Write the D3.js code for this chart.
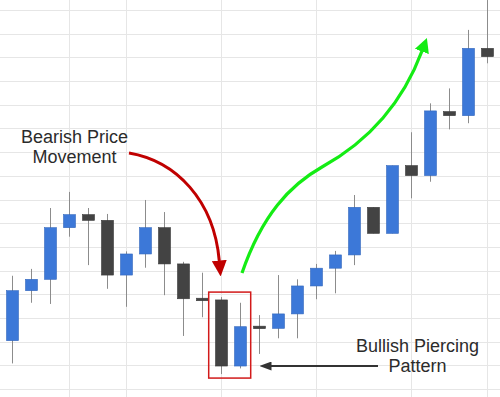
<!DOCTYPE html>
<html>
<head>
<meta charset="utf-8">
<script src="https://cdn.jsdelivr.net/npm/d3@7"></script>
<style>
  html, body { margin: 0; padding: 0; background: #fff; }
  svg { display: block; }
  text { font-family: "Liberation Sans", Arial, sans-serif; }
</style>
</head>
<body>
<svg></svg>
<script>
// candle values, one entry per session (price units = one grid step)
const open  = [2.04, 4.15, 4.63, 6.81, 7.36, 7.12, 4.81, 5.70, 6.81, 5.28, 3.80, 3.76, 0.97,
               2.62, 2.56, 3.17, 4.35, 5.10, 5.66, 7.67, 6.57, 9.43, 9.01, 11.71, 11.54, 14.38];
const close = [4.15, 4.63, 6.81, 7.36, 7.12, 4.81, 5.70, 6.81, 5.28, 3.81, 3.76, 0.97, 2.63,
               2.58, 3.17, 4.35, 5.10, 5.66, 7.67, 6.57, 9.43, 9.01, 11.74, 11.54, 14.38, 14.03];
const high  = [4.78, 5.07, 7.64, 8.32, 7.64, 7.39, 5.81, 7.98, 7.47, 5.37, 4.91, 3.88, 3.64,
               3.12, 4.81, 4.63, 5.28, 5.83, 8.19, 7.67, 9.43, 10.84, 12.06, 12.69, 15.16, 16.42];
const low   = [1.08, 3.64, 3.59, 6.43, 5.23, 4.23, 3.47, 5.12, 3.96, 2.24, 3.03, 0.63, 0.87,
               1.48, 2.14, 2.14, 3.79, 4.04, 5.23, 6.57, 6.57, 8.05, 8.75, 10.96, 11.22, 13.75];
// sessions that carry a vertical grid line
const gridSessions = [3, 6, 11, 16, 21, 25];

const width = 500;
const height = 397;

const svg = d3.select("svg")
  .attr("width", width)
  .attr("height", height);

const data = open.map((o, i) => ({ i, o, c: close[i], h: high[i], l: low[i] }));

const x = d3.scalePoint()
  .domain(d3.range(data.length))
  .range([11.7, 486.7]);

const y = d3.scaleLinear()
  .domain([0, 16])
  .range([389, 10]);

const bodyW = 12;

// grid
const grid = svg.append("g").attr("stroke", "#e6e6e6").attr("stroke-width", 1);
grid.selectAll(".h")
  .data(y.ticks(16))
  .enter().append("line")
  .attr("x1", 0).attr("x2", width)
  .attr("y1", d => Math.round(y(d)) + 0.5)
  .attr("y2", d => Math.round(y(d)) + 0.5);
grid.selectAll(".v")
  .data(gridSessions)
  .enter().append("line")
  .attr("y1", 0).attr("y2", height)
  .attr("x1", d => Math.round(x(d)) + 0.5)
  .attr("x2", d => Math.round(x(d)) + 0.5);

// candles
const candle = svg.selectAll(".candle")
  .data(data)
  .enter().append("g")
  .attr("class", "candle");

candle.append("line")
  .attr("x1", d => Math.round(x(d.i)) + 0.5)
  .attr("x2", d => Math.round(x(d.i)) + 0.5)
  .attr("y1", d => y(d.h))
  .attr("y2", d => y(d.l))
  .attr("stroke", "#8c8c8c")
  .attr("stroke-width", 1);

candle.append("rect")
  .attr("x", d => Math.round(x(d.i)) + 0.5 - bodyW / 2)
  .attr("width", bodyW)
  .attr("y", d => {
    const top = y(Math.max(d.o, d.c));
    const hgt = Math.abs(y(d.o) - y(d.c));
    return hgt < 2.5 ? (top + hgt / 2 - 1.25) : top;
  })
  .attr("height", d => Math.max(2.5, Math.abs(y(d.o) - y(d.c))))
  .attr("fill", d => d.c > d.o ? "#3c78d8" : "#434343")
  .attr("stroke", d => d.c > d.o ? "#3468bd" : "#393939")
  .attr("stroke-width", 0.6);

// highlight box around the piercing pair
svg.append("rect")
  .attr("x", x(11) - 12)
  .attr("y", y(high[11]) - 5)
  .attr("width", x(12) - x(11) + 23)
  .attr("height", y(low[11]) - y(high[11]) + 9)
  .attr("fill", "none")
  .attr("stroke", "#d21a1a")
  .attr("stroke-width", 1.5);

// arrowheads
const defs = svg.append("defs");
function head(id, color, len, half) {
  defs.append("marker")
    .attr("id", id)
    .attr("markerUnits", "userSpaceOnUse")
    .attr("viewBox", `0 ${-half} ${len} ${half * 2}`)
    .attr("markerWidth", len)
    .attr("markerHeight", half * 2)
    .attr("refX", 0.5)
    .attr("refY", 0)
    .attr("orient", "auto")
    .append("path")
    .attr("d", `M0,${-half}L${len},0L0,${half}Z`)
    .attr("fill", color);
}
head("redHead", "#c00000", 16, 7.5);
head("greenHead", "#14ec14", 14.5, 7.5);
head("darkHead", "#333333", 12, 4.5);

// bearish arrow
svg.append("path")
  .attr("d", "M129,153 C176,161 214,200 219.3,261")
  .attr("fill", "none")
  .attr("stroke", "#c00000")
  .attr("stroke-width", 3)
  .attr("marker-end", "url(#redHead)");

// bullish move arrow
svg.append("path")
  .attr("d", "M242,273 C262,215 290,185 322,167 C360,146 400,110 422,51")
  .attr("fill", "none")
  .attr("stroke", "#14ec14")
  .attr("stroke-width", 3.2)
  .attr("marker-end", "url(#greenHead)");

// pattern pointer
svg.append("path")
  .attr("d", "M378,366 L271,366")
  .attr("fill", "none")
  .attr("stroke", "#333333")
  .attr("stroke-width", 2)
  .attr("marker-end", "url(#darkHead)");

// labels
const labels = [
  { x: 74.5, y: 142.7, t: "Bearish Price" },
  { x: 74.5, y: 163.3, t: "Movement" },
  { x: 417.5, y: 351.7, t: "Bullish Piercing" },
  { x: 417.5, y: 372, t: "Pattern" }
];
svg.selectAll(".label")
  .data(labels)
  .enter().append("text")
  .attr("class", "label")
  .attr("x", d => d.x)
  .attr("y", d => d.y)
  .attr("text-anchor", "middle")
  .attr("font-size", 18)
  .attr("fill", "#2b2b2b")
  .text(d => d.t);
</script>
</body>
</html>
